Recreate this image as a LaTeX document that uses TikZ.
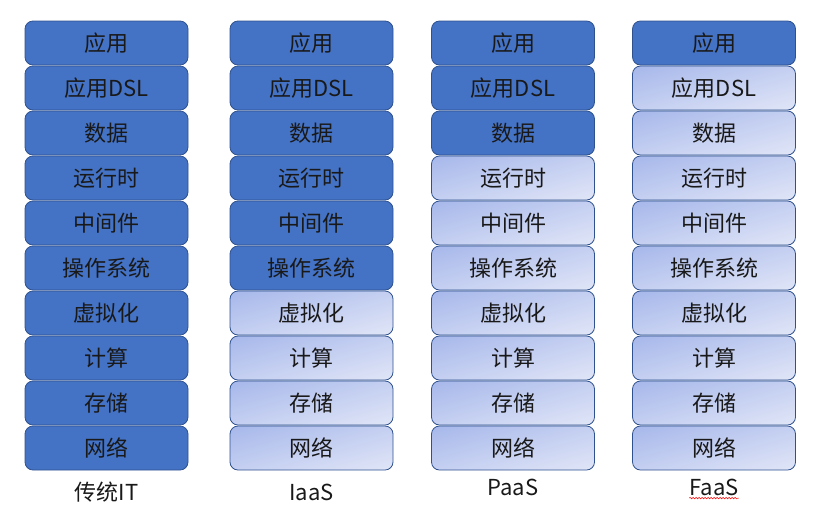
\documentclass[tikz,border=0pt]{standalone}
\usepackage{fontspec}
\setmainfont{Noto Sans CJK SC}
\usepackage{xcolor}
\usetikzlibrary{shadings}
\usetikzlibrary{decorations.pathmorphing}
\definecolor{ownblue}{HTML}{4472C4}
\definecolor{edgeblue}{HTML}{2F528F}
\definecolor{paleA}{HTML}{A6B7EA}
\definecolor{paleB}{HTML}{C4CFF1}
\definecolor{paleC}{HTML}{E1E6F7}

\begin{document}
\begin{tikzpicture}[x=1pt,y=-1pt,
    layer/.style={draw=edgeblue,line width=0.8pt,rounded corners=8pt,
      minimum width=163pt,minimum height=44pt,inner sep=0pt,
      text=black!90,font=\fontsize{22}{26}\selectfont},
    own/.style={layer,fill=ownblue},
    given/.style={layer,upper left=paleA,upper right=paleB,
      lower left=paleB,lower right=paleC},
    model/.style={inner sep=0pt,text=black!90,font=\fontsize{22}{26}\selectfont},
    squiggle/.style={red,line width=0.5pt,decorate,
      decoration={snake,amplitude=0.8pt,segment length=3pt}}]
  \useasboundingbox (0,0) rectangle (821,507);
  \foreach \c/\x/\n/\m/\ly in {1/106.5/10/传统IT/492,2/311.5/6/IaaS/492,
      3/513/3/PaaS/487,4/714/1/FaaS/487} {
    \foreach \t [count=\r] in {应用,应用DSL,数据,运行时,中间件,操作系统,
        虚拟化,计算,存储,网络} {
      \ifnum\r>\n \tikzset{cur/.style={given}}\else\tikzset{cur/.style={own}}\fi
      \node[cur] (c\c r\r) at (\x,{43+45*(\r-1)}) {\t};
    }
    \node[model] (lbl\c) at (\x,\ly) {\m};
  }
  % spell-check mark
  \draw[squiggle] ([yshift=-3pt]lbl4.base west) -- ([yshift=-3pt]lbl4.base east);
\end{tikzpicture}
\end{document}
